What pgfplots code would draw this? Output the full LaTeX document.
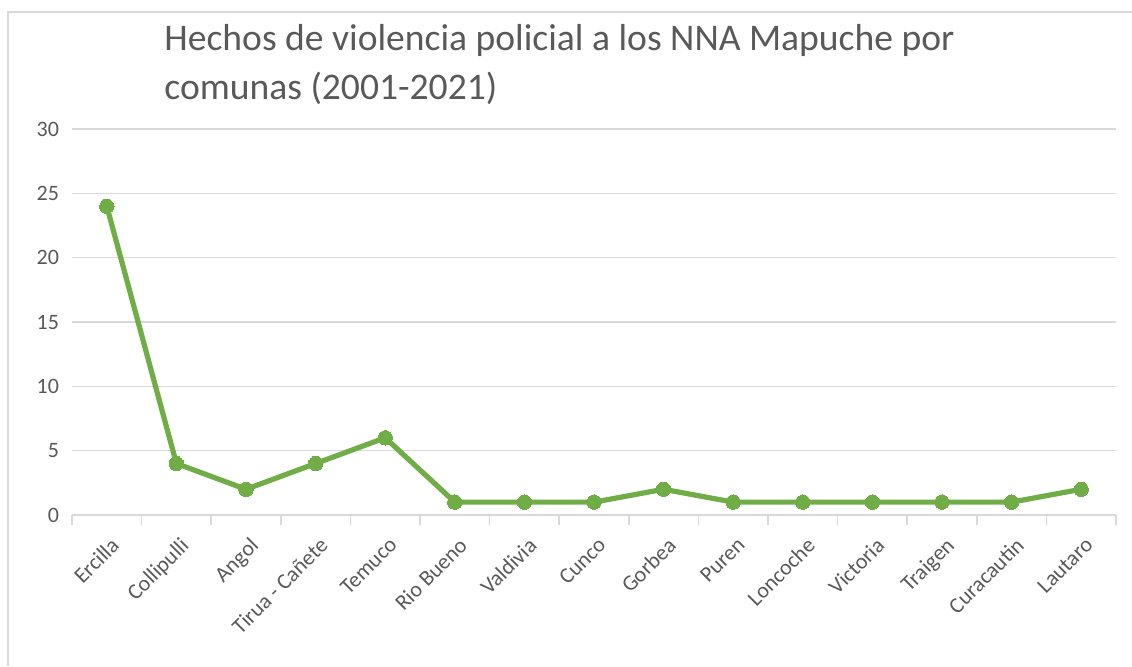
\documentclass[border=0pt]{standalone}
\usepackage{pgfplots}
\pgfplotsset{compat=1.18}
\usepackage{fontspec}
\setmainfont{Carlito}
\definecolor{txt}{HTML}{595959}
\definecolor{gridc}{HTML}{D9D9D9}
\definecolor{verde}{HTML}{70AD47}
\begin{document}
\begin{tikzpicture}
\path[use as bounding box] (0,0) rectangle (566pt,333pt);
\draw[gridc, line width=0.6pt] (4pt,0) -- (4pt,327pt) -- (566pt,327pt);
\node[anchor=base west, inner sep=0pt, text=txt, font=\fontsize{18.8}{23}\selectfont] at (82pt,308pt) {Hechos de violencia policial a los NNA Mapuche por};
\node[anchor=base west, inner sep=0pt, text=txt, font=\fontsize{18.8}{23}\selectfont] at (82pt,283.5pt) {comunas (2001-2021)};
\begin{axis}[
  at={(36pt,75.5pt)}, anchor=south west,
  scale only axis, width=522pt, height=193pt,
  xmin=-0.5, xmax=14.5, ymin=0, ymax=30,
  ytick={0,5,...,30},
  xtick={0,...,14},
  xticklabels={Ercilla, Collipulli, Angol, Tirua - Cañete, Temuco, Rio Bueno, Valdivia, Cunco, Gorbea, Puren, Loncoche, Victoria, Traigen, Curacautin, Lautaro},
  minor xtick={-0.5,0.5,...,14.5},
  axis x line*=bottom,
  axis y line*=left,
  y axis line style={draw=none},
  x axis line style={gridc, line width=0.8pt, -},
  ymajorgrids, major grid style={gridc, line width=0.8pt},
  major tick length=0pt, minor tick length=5pt,
  tick align=outside,
  minor tick style={gridc, line width=0.8pt},
  ticklabel style={text=txt, font=\fontsize{11}{13}\selectfont},
  yticklabel style={anchor=east, xshift=-3pt},
  xticklabel style={rotate=45, anchor=north east, xshift=-3pt, yshift=-5pt},
  /pgf/number format/assume math mode=true,
  clip=false,
]
\addplot[color=verde, line width=2.6pt, mark=*, mark size=3.6pt, mark options={fill=verde, draw=verde, line width=0pt}]
  coordinates {(0,24)(1,4)(2,2)(3,4)(4,6)(5,1)(6,1)(7,1)(8,2)(9,1)(10,1)(11,1)(12,1)(13,1)(14,2)};
\end{axis}
\end{tikzpicture}
\end{document}
